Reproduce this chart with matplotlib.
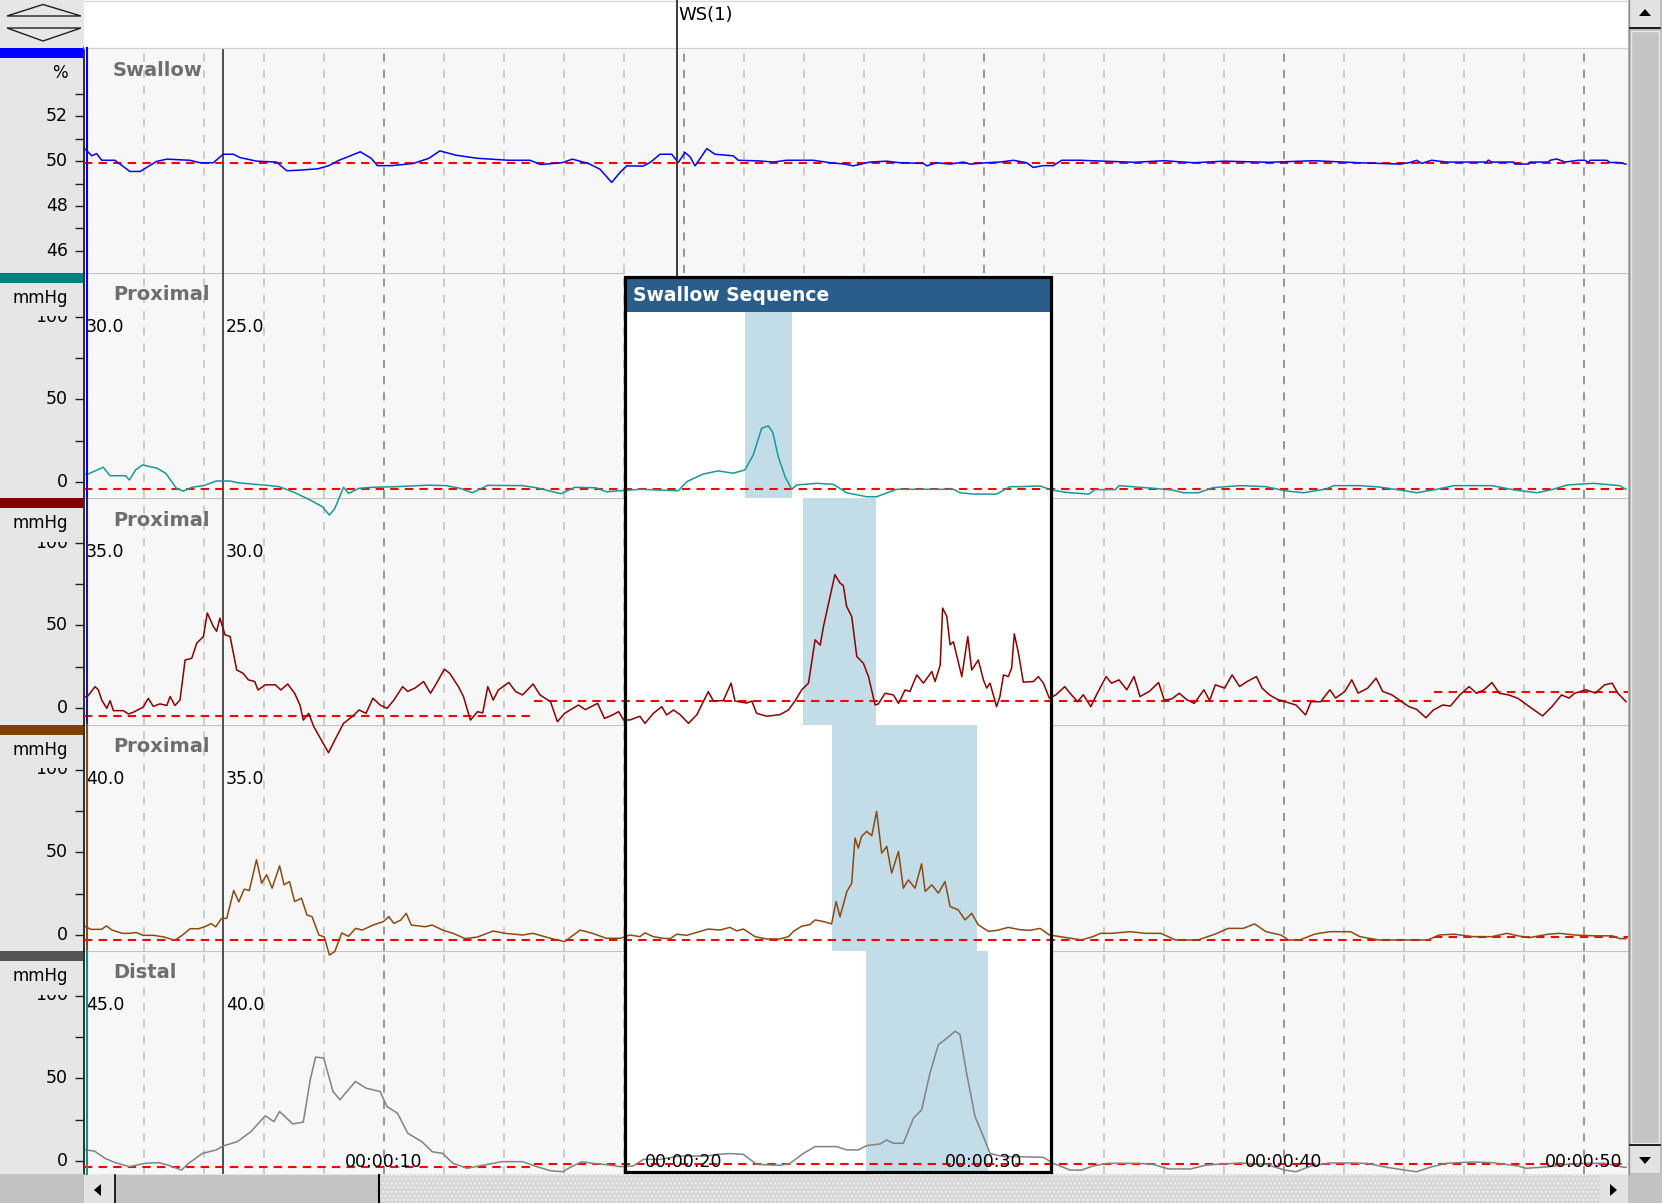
import matplotlib
matplotlib.use("Agg")
import matplotlib.pyplot as plt
from matplotlib.patches import Rectangle, Polygon
from matplotlib.transforms import Bbox

# ---------------- data ----------------
panel_titles = ["Swallow", "Proximal", "Proximal", "Proximal", "Distal"]
panel_units = ["%", "mmHg", "mmHg", "mmHg", "mmHg"]
sensor_labels = [None, ("30.0", "25.0"), ("35.0", "30.0"), ("40.0", "35.0"), ("45.0", "40.0")]
time_ticks = [10, 20, 30, 40, 50]
time_labels = ["00:00:10", "00:00:20", "00:00:30", "00:00:40", "00:00:50"]
swallow_tick_labels = [52, 50, 48, 46]
pressure_tick_labels = [100, 50, 0]
marker_t = 4.63
ws_t = 19.77
ws_label = "WS(1)"
box_t = (18.03, 32.23)
box_title = "Swallow Sequence"
shade_windows = [None, (22.03, 23.6), (23.97, 26.4), (24.93, 29.77), (26.07, 30.13)]

baseline_swallow = [(0.0, 51.5, 49.9)]
baseline_prox1 = [(0.0, 51.5, -4.2)]
baseline_prox2 = [(0.0, 14.9, -4.8), (15.0, 44.9, 4.2), (45.0, 51.5, 9.9)]
baseline_prox3 = [(0.0, 44.9, -3.2), (45.0, 51.5, -1.0)]
baseline_distal = [(0.0, 15.0, -3.4), (15.0, 51.5, -1.8)]

swallow_pts = [
    (0.05, 50.53), (0.26, 50.24), (0.42, 50.34), (0.59, 50.04), (1.03, 50.04), (1.53, 49.54),
    (1.87, 49.54), (2.09, 49.72), (2.42, 49.99), (2.76, 50.09), (3.53, 50.04), (3.87, 49.93),
    (4.31, 49.93), (4.64, 50.31), (4.98, 50.31), (5.2, 50.16), (5.76, 50.0), (6.42, 49.96),
    (6.76, 49.57), (7.2, 49.6), (7.8, 49.66), (8.16, 49.8), (8.5, 50.04), (8.86, 50.23),
    (9.21, 50.42), (9.57, 50.13), (9.78, 49.8), (10.27, 49.8), (10.98, 49.9), (11.5, 50.13),
    (11.86, 50.46), (12.39, 50.27), (13.1, 50.13), (14.16, 50.04), (14.87, 50.04), (15.22, 49.85),
    (15.93, 49.93), (16.28, 50.09), (16.81, 49.9), (17.2, 49.64), (17.59, 49.05), (17.87, 49.5),
    (18.09, 49.79), (18.64, 49.78), (18.87, 49.94), (19.2, 50.31), (19.59, 50.31), (19.81, 49.94),
    (20.03, 50.39), (20.2, 50.2), (20.37, 49.79), (20.76, 50.56), (21.03, 50.31), (21.64, 50.24),
    (21.81, 50.04), (22.53, 50.01), (22.98, 49.96), (23.42, 50.04), (24.31, 50.04), (24.87, 49.93),
    (25.37, 49.87), (25.64, 49.79), (26.2, 49.96), (26.76, 50.0), (27.2, 49.93), (27.98, 49.9),
    (28.09, 49.79), (28.42, 49.93), (28.87, 49.87), (29.31, 49.96), (29.53, 49.87), (30.09, 49.93),
    (30.53, 49.96), (30.98, 50.04), (31.42, 49.93), (31.64, 49.72), (31.98, 49.8), (32.31, 49.8),
    (32.59, 50.04), (33.2, 50.04), (34.0, 50.0), (35.0, 49.95), (36.0, 50.02), (37.0, 49.93),
    (38.0, 50.0), (39.5, 49.95), (41.0, 50.02), (42.5, 49.93), (43.87, 49.87), (44.2, 49.94),
    (44.42, 50.04), (44.59, 49.9), (44.92, 50.04), (45.42, 49.96), (46.76, 49.96), (46.81, 50.05),
    (46.92, 49.96), (47.65, 49.96), (47.7, 49.87), (48.15, 49.87), (48.2, 49.96), (48.81, 49.96),
    (48.87, 50.04), (49.09, 50.1), (49.37, 49.96), (49.81, 50.04), (50.03, 50.04), (50.15, 49.94),
    (50.2, 50.04), (50.76, 50.04), (50.87, 49.94), (51.15, 49.94), (51.4, 49.87),
]

prox1_pts = [
    (0.05, 4.7), (0.12, 4.7), (0.64, 8.9), (0.87, 3.8), (1.39, 3.8), (1.51, 1.2), (1.72, 7.3),
    (1.95, 10.3), (2.44, 8.3), (2.73, 5.2), (3.08, -3.8), (3.31, -5.5), (3.6, -3.2), (4.0, -2.1),
    (4.41, 0.6), (4.87, 0.6), (5.11, -0.4), (5.57, -1.2), (6.04, -1.9), (6.5, -2.8), (6.96, -5.9),
    (7.54, -10.9), (7.95, -15.0), (8.18, -20.0), (8.36, -16.0), (8.65, -3.2), (8.82, -6.9),
    (9.17, -3.8), (9.63, -3.2), (10.45, -2.8), (11.49, -1.9), (12.07, -2.2), (12.53, -3.8),
    (12.94, -6.5), (13.46, -2.0), (14.62, -2.2), (15.09, -3.5), (15.9, -7.1), (16.36, -3.2),
    (17.06, -3.5), (17.41, -5.9), (17.87, -5.3), (18.53, -4.4), (19.81, -5.3), (20.09, 0.2),
    (20.64, 4.8), (21.14, 6.7), (21.64, 5.3), (22.03, 7.3), (22.31, 16.4), (22.59, 32.5),
    (22.81, 33.9), (22.96, 30.0), (23.14, 15.4), (23.37, 3.2), (23.59, -4.4), (23.76, -1.8),
    (24.42, -0.8), (24.98, -1.4), (25.42, -6.5), (26.09, -8.9), (26.42, -8.9), (27.09, -4.4),
    (27.87, -4.4), (28.98, -4.4), (29.2, -6.5), (29.64, -7.3), (30.42, -7.3), (30.87, -2.8),
    (31.2, -2.8), (31.87, -2.4), (32.25, -4.8), (32.75, -6.3), (33.5, -7.3), (33.69, -4.6),
    (34.38, -4.6), (34.5, -2.2), (35.63, -3.8), (36.26, -4.8), (36.64, -6.5), (37.14, -6.5),
    (37.64, -3.4), (38.52, -2.2), (39.4, -2.8), (40.03, -5.3), (40.65, -6.5), (41.41, -4.2),
    (41.66, -2.2), (42.53, -2.2), (43.16, -3.0), (44.04, -5.3), (44.42, -6.5), (45.04, -4.6),
    (45.67, -2.2), (46.93, -2.2), (47.68, -4.8), (48.43, -6.5), (48.93, -4.6), (49.44, -1.8),
    (50.31, -0.8), (51.19, -2.2), (51.4, -4.4),
]

prox2_pts = [
    (0.05, 6.9), (0.11, 6.9), (0.37, 12.9), (0.48, 10.9), (0.59, 4.8), (0.76, -0.2), (0.87, 4.4),
    (0.98, -1.6), (1.31, -1.6), (1.48, -3.6), (1.64, -2.6), (1.97, 0.5), (2.14, 5.8), (2.31, 1.0),
    (2.53, 2.5), (2.76, 1.5), (2.87, 6.9), (3.03, 1.5), (3.2, 4.8), (3.37, 29.0), (3.59, 30.0),
    (3.76, 39.2), (3.98, 43.2), (4.11, 57.4), (4.31, 49.3), (4.42, 46.3), (4.53, 54.3), (4.7, 44.2),
    (4.87, 43.2), (5.09, 23.0), (5.3, 21.0), (5.48, 17.0), (5.69, 16.0), (5.8, 10.9), (6.04, 14.0),
    (6.38, 14.0), (6.56, 10.9), (6.79, 14.5), (7.02, 8.9), (7.2, 1.8), (7.31, -7.3), (7.49, -3.2),
    (7.66, -11.3), (8.15, -27.0), (8.4, -18.0), (8.65, -9.3), (8.94, -5.2), (9.17, -1.2),
    (9.4, -3.2), (9.63, 5.9), (9.87, 1.8), (10.1, -0.2), (10.33, 4.8), (10.62, 12.9), (10.79, 10.0),
    (11.03, 12.0), (11.32, 16.0), (11.55, 8.9), (11.72, 14.0), (12.01, 23.4), (12.19, 21.0),
    (12.48, 12.9), (12.65, 6.9), (12.88, -7.3), (13.12, -2.2), (13.29, -3.0), (13.46, 12.9),
    (13.64, 4.8), (13.81, 10.9), (14.16, 15.4), (14.39, 9.9), (14.62, 7.9), (14.97, 14.5),
    (15.2, 7.9), (15.55, 3.8), (15.78, -8.3), (16.02, -3.2), (16.48, 1.8), (16.71, -1.0),
    (17.12, 2.8), (17.35, -6.3), (17.64, -4.0), (17.82, -2.2), (17.99, -7.3), (18.2, -7.2),
    (18.53, -5.0), (18.7, -9.3), (18.98, -3.2), (19.26, 0.8), (19.42, -4.2), (19.65, -1.2),
    (19.87, -4.0), (20.15, -9.3), (20.43, -4.0), (20.81, 9.9), (20.98, 4.2), (21.31, 4.5),
    (21.57, 15.0), (21.7, 4.2), (22.09, 3.0), (22.26, 4.2), (22.42, -3.2), (22.76, -5.0),
    (23.2, -4.0), (23.48, -1.2), (23.7, 4.2), (23.92, 10.9), (24.15, 15.0), (24.37, 41.2),
    (24.54, 38.0), (24.65, 49.3), (24.87, 67.5), (25.03, 80.6), (25.2, 75.5), (25.31, 74.0),
    (25.42, 61.4), (25.59, 55.3), (25.76, 31.1), (25.98, 27.0), (26.15, 19.0), (26.37, 1.8),
    (26.48, 2.5), (26.7, 8.9), (26.98, 7.9), (27.15, 2.8), (27.37, 10.9), (27.53, 10.0),
    (27.76, 20.0), (27.98, 15.0), (28.26, 22.0), (28.37, 16.0), (28.54, 26.0), (28.62, 60.4),
    (28.76, 55.3), (28.87, 38.2), (28.98, 40.0), (29.26, 19.0), (29.46, 43.2), (29.59, 22.9),
    (29.81, 29.0), (29.98, 17.0), (30.09, 12.0), (30.2, 15.0), (30.42, 0.8), (30.53, 6.9),
    (30.65, 20.0), (30.81, 19.0), (30.92, 24.0), (31.01, 44.8), (31.15, 33.0), (31.31, 15.6),
    (31.65, 16.0), (31.81, 19.0), (31.98, 15.0), (32.18, 5.9), (32.4, 8.0), (32.69, 12.9),
    (32.87, 8.9), (33.12, 3.8), (33.31, 8.0), (33.56, 0.8), (33.75, 8.0), (34.07, 19.0),
    (34.25, 15.0), (34.5, 17.0), (34.76, 11.0), (35.0, 19.0), (35.2, 6.9), (35.51, 10.0),
    (35.82, 15.4), (36.01, 4.8), (36.26, 5.5), (36.51, 8.9), (36.76, 5.0), (37.01, 2.8),
    (37.33, 11.0), (37.52, 4.5), (37.71, 14.0), (38.02, 12.0), (38.27, 20.0), (38.52, 13.0),
    (38.77, 16.0), (39.08, 19.0), (39.27, 12.0), (39.52, 7.9), (39.77, 5.3), (40.03, 3.8),
    (40.4, 1.8), (40.72, -4.2), (40.9, 3.8), (41.22, 3.8), (41.53, 11.0), (41.72, 6.0),
    (42.03, 10.0), (42.26, 17.0), (42.47, 9.0), (42.79, 12.0), (43.07, 18.0), (43.29, 10.0),
    (43.6, 7.9), (43.92, 3.8), (44.17, 0.8), (44.42, -0.8), (44.73, -5.9), (44.98, -1.2),
    (45.29, 1.8), (45.55, 1.2), (45.86, 7.9), (46.17, 12.9), (46.42, 8.9), (46.67, 11.0),
    (46.93, 15.4), (47.18, 8.9), (47.49, 7.9), (47.8, 5.8), (48.18, 0.8), (48.62, -4.8),
    (48.93, 0.8), (49.25, 7.9), (49.5, 6.0), (49.69, 8.9), (50.06, 11.0), (50.38, 9.0),
    (50.69, 14.0), (50.94, 15.0), (51.13, 8.9), (51.4, 3.8),
]

prox3_pts = [
    (0.05, 5.1), (0.23, 3.4), (0.58, 3.4), (0.75, 5.5), (0.93, 3.0), (1.28, 1.0), (1.51, 1.0),
    (1.74, 1.5), (1.97, -0.2), (2.32, -0.2), (2.67, -1.2), (3.02, -3.2), (3.25, -0.5), (3.54, 3.8),
    (3.83, 3.8), (4.06, 5.3), (4.24, 6.9), (4.39, 4.9), (4.58, 9.9), (4.76, 10.1), (4.99, 26.9),
    (5.16, 20.0), (5.34, 27.7), (5.51, 26.9), (5.75, 45.5), (5.92, 31.3), (6.09, 36.4),
    (6.27, 28.3), (6.52, 41.8), (6.67, 30.3), (6.85, 32.3), (7.02, 20.2), (7.25, 22.2),
    (7.43, 12.1), (7.6, 11.1), (7.83, 0.0), (8.01, -1.2), (8.18, -12.1), (8.36, -10.0),
    (8.59, 1.2), (8.82, -0.8), (9.05, 4.0), (9.28, 3.0), (9.63, 6.0), (9.98, 8.1), (10.16, 11.1),
    (10.33, 7.0), (10.56, 9.0), (10.74, 13.1), (10.91, 6.0), (11.37, 5.0), (11.61, 6.0),
    (11.95, 3.0), (12.3, 1.0), (12.71, -2.2), (13.12, -1.2), (13.64, 2.4), (14.04, 1.0),
    (14.62, 0.0), (14.97, 1.0), (15.55, -2.0), (16.02, -4.0), (16.54, 3.0), (16.95, 1.0),
    (17.41, -2.0), (17.87, -2.0), (18.2, 0.0), (18.53, -1.0), (18.7, 1.3), (18.98, -1.0),
    (19.31, -2.0), (19.54, -2.2), (19.76, 0.5), (20.09, -0.2), (20.54, 2.2), (20.81, 3.6),
    (21.2, 3.0), (21.53, 4.6), (21.76, 2.5), (21.98, 3.6), (22.37, -1.0), (22.76, -2.4),
    (23.2, -2.4), (23.48, -1.0), (23.65, 2.2), (23.92, 5.3), (24.2, 6.3), (24.37, 9.1),
    (24.65, 8.1), (24.92, 6.7), (25.07, 20.2), (25.2, 11.0), (25.43, 26.3), (25.59, 31.3),
    (25.7, 58.6), (25.81, 52.5), (25.92, 59.6), (26.09, 62.6), (26.26, 60.0), (26.42, 74.7),
    (26.59, 49.5), (26.76, 53.5), (26.92, 37.4), (27.15, 50.5), (27.31, 28.3), (27.48, 33.3),
    (27.7, 28.3), (27.92, 43.0), (28.04, 26.3), (28.26, 30.3), (28.48, 25.3), (28.7, 32.3),
    (28.87, 17.2), (29.14, 15.2), (29.37, 9.1), (29.59, 13.1), (29.81, 6.1), (30.15, 2.2),
    (30.43, 2.8), (30.81, 4.6), (31.2, 3.2), (31.53, 2.8), (31.87, 4.0), (32.18, 0.0),
    (32.53, -1.0), (32.87, -2.0), (33.25, -3.0), (33.63, -1.0), (33.88, 1.0), (34.25, 1.0),
    (34.88, 2.0), (35.38, 1.0), (35.89, 1.0), (36.39, -3.0), (37.14, -3.0), (37.77, 1.0),
    (38.14, 4.0), (38.64, 4.0), (39.02, 6.7), (39.4, 2.0), (39.9, 0.0), (40.15, -3.0),
    (40.53, -3.0), (41.03, 0.6), (41.53, 2.0), (42.22, 2.0), (42.53, -1.0), (43.16, -3.0),
    (43.79, -3.0), (44.42, -3.0), (44.8, -3.0), (45.17, 0.0), (45.67, 0.5), (46.3, -1.0),
    (46.93, -1.0), (47.43, 1.0), (47.8, -0.5), (48.18, -1.6), (48.81, 0.5), (49.18, 1.0),
    (49.69, 0.0), (50.31, -0.5), (50.94, -0.5), (51.19, -2.2), (51.4, -2.2),
]

distal_pts = [
    (0.05, 6.7), (0.35, 6.0), (0.7, 1.6), (1.04, -1.0), (1.51, -3.4), (2.03, -1.4), (2.5, -1.0),
    (2.79, -2.4), (3.25, -5.5), (3.48, -1.5), (3.95, 4.6), (4.41, 6.7), (4.64, 9.1), (5.11, 11.7),
    (5.57, 17.8), (6.04, 27.3), (6.33, 23.8), (6.52, 29.9), (6.96, 22.4), (7.31, 23.5),
    (7.54, 49.0), (7.72, 62.8), (7.99, 62.2), (8.3, 42.0), (8.53, 37.0), (9.05, 48.1),
    (9.4, 44.0), (9.87, 42.0), (10.1, 32.9), (10.45, 28.9), (10.79, 16.8), (11.26, 11.7),
    (11.61, 5.6), (11.95, 4.6), (12.3, -1.4), (12.77, -4.4), (13.35, -2.4), (13.93, -0.4),
    (14.62, -0.4), (15.09, -3.4), (15.55, -5.9), (15.96, -6.5), (16.25, -3.4), (16.6, -0.4),
    (16.95, -1.4), (17.41, -2.2), (17.87, -3.4), (18.31, -3.0), (18.65, 1.0), (19.2, 1.0),
    (19.87, 3.0), (20.76, 3.0), (21.09, 4.0), (21.53, 4.5), (21.98, 4.0), (22.42, -2.0),
    (22.87, -2.4), (23.2, -2.6), (23.53, -1.5), (23.98, 4.6), (24.37, 8.7), (25.09, 8.7),
    (25.42, 6.7), (25.81, 6.7), (26.09, 9.3), (26.54, 10.3), (26.76, 12.7), (26.98, 10.7),
    (27.31, 10.7), (27.65, 25.9), (27.92, 30.9), (28.2, 53.1), (28.48, 70.3), (28.7, 73.3),
    (29.04, 78.4), (29.2, 76.4), (29.42, 53.1), (29.7, 26.9), (29.98, 14.7), (30.2, 4.6),
    (30.65, 2.6), (31.2, 2.6), (31.98, 2.2), (32.31, -1.4), (32.87, -5.5), (33.25, -5.5),
    (33.63, -3.0), (34.13, -1.4), (35.13, -1.4), (35.63, -2.0), (36.14, -4.8), (36.89, -4.8),
    (37.39, -2.5), (37.77, -2.0), (38.52, -1.2), (39.4, -2.0), (40.03, -5.5), (40.4, -6.5),
    (40.9, -3.0), (41.53, -1.2), (42.28, -1.2), (42.78, -1.5), (43.41, -3.8), (44.04, -5.5),
    (44.42, -6.5), (44.92, -3.5), (45.42, -1.4), (46.3, -0.6), (46.93, -1.0), (47.8, -3.0),
    (48.06, -4.4), (48.81, -3.5), (49.44, -2.0), (50.06, -1.4), (50.69, -1.4), (51.32, -3.8),
    (51.4, -3.8),
]

series = [swallow_pts, prox1_pts, prox2_pts, prox3_pts, distal_pts]
baselines = [baseline_swallow, baseline_prox1, baseline_prox2, baseline_prox3, baseline_distal]

# ---------------- layout / style ----------------
W, H, DPI = 1662, 1203, 100
X0, X1 = 84, 1628
PX_PER_S = 30.0
T_MAX = (X1 - X0) / PX_PER_S
bounds = [48, 273, 498, 725, 951, 1174]
zero_px = [None, 482, 708, 935, 1161]
MM_PX = 1.655
PT = 0.72  # points per pixel at 100 dpi
BOX_TOP, HEADER_TOP, HEADER_BOT, BOX_BOT = 277, 279, 312, 1172

trace_colors = ['#0000ff', '#16999a', '#8b0000', '#8b4a12', '#828282']
strip_colors = ['#0000ff', '#008080', '#800000', '#804000', '#555555']
left_line_colors = ['#0000ff', '#0000ff', '#1a1aa0', '#8b4a12', '#129090']
shade_color = '#c3dde8'
bg_panel = '#f7f7f7'
bg_side = '#e6e6e6'
sep_color = '#c4c4c4'

plt.rcParams['font.family'] = ['DejaVu Sans']

fig = plt.figure(figsize=(W / DPI, H / DPI), dpi=DPI)
fig.patch.set_facecolor(bg_side)

axes = []
for i in range(5):
    top, bot = bounds[i], bounds[i + 1]
    ax = fig.add_axes([X0 / W, 1 - bot / H, (X1 - X0) / W, (bot - top) / H])
    # upper panels drawn after lower ones so their traces may run over the border
    ax.set_zorder(2 - 0.1 * i)
    ax.set_facecolor(bg_panel)
    ax.set_xlim(0, T_MAX)
    if i == 0:
        ax.set_ylim(45.0, 55.06)
        ax.set_yticks(list(range(46, 54)))
    else:
        ax.set_ylim(-(bot - zero_px[i]) / MM_PX, (zero_px[i] - top) / MM_PX)
        ax.set_yticks([0, 25, 50, 75, 100])
    ax.set_xticks([])
    ax.tick_params(axis='y', direction='out', length=6.5, width=1.0,
                   color='#202020', labelleft=False)
    for s in ['top', 'right', 'bottom']:
        ax.spines[s].set_visible(False)
    ax.spines['left'].set_color('#202020')
    ax.spines['left'].set_linewidth(1.3)

    # vertical grid every 2 s, darker every 10 s
    for g in range(2, int(T_MAX) + 1, 2):
        major = (g % 10 == 0)
        ax.axvline(g, color='#8e8e8e' if major else '#c8c8c8', lw=1.3,
                   ls=(0, (4.5, 4.5)), zorder=1)

    ytop = ax.get_ylim()[1]
    if i > 0:
        # panel separator (hidden inside the box)
        ax.plot([0, box_t[0]], [ytop, ytop], color=sep_color, lw=1.6, zorder=1.2, clip_on=False)
        ax.plot([box_t[1], T_MAX], [ytop, ytop], color=sep_color, lw=1.6, zorder=1.2, clip_on=False)
        ax.axvspan(box_t[0], box_t[1], color='white', lw=0, zorder=1.5)
        shade_top = 1.0 if i > 1 else (bot - HEADER_BOT) / (bot - top)
        ax.axvspan(shade_windows[i][0], shade_windows[i][1], ymin=0, ymax=shade_top,
                   color=shade_color, lw=0, zorder=2)

    ax.axvline(marker_t, color='#4f4f4f', lw=1.4, zorder=2.5)

    for (a, b, v) in baselines[i]:
        ax.plot([a, b], [v, v], color='#ff0000', lw=1.5, ls=(0, (4, 3)), zorder=3)

    tt = [p[0] for p in series[i]]
    vv = [p[1] for p in series[i]]
    ax.plot(tt, vv, color=trace_colors[i], lw=1.1, zorder=4, clip_on=False)

    ax.annotate(panel_titles[i], xy=(0, 1), xycoords='axes fraction',
                xytext=(29 * PT, -22 * PT), textcoords='offset points',
                ha='left', va='center', fontsize=14, fontweight='bold',
                color='#6e6e6e', zorder=6)
    if sensor_labels[i] is not None:
        ax.annotate(sensor_labels[i][0], xy=(0, 1), xycoords='axes fraction',
                    xytext=(2 * PT, -54 * PT), textcoords='offset points',
                    ha='left', va='center', fontsize=12.5, color='black', zorder=6)
        ax.annotate(sensor_labels[i][1], xy=(marker_t, 1),
                    xycoords=('data', 'axes fraction'),
                    xytext=(3 * PT, -54 * PT), textcoords='offset points',
                    ha='left', va='center', fontsize=12.5, color='black', zorder=6)
    axes.append(ax)

# ---------------- chrome overlay (pixel coordinates) ----------------
ov = fig.add_axes([0, 0, 1, 1], zorder=5)
ov.set_xlim(0, W)
ov.set_ylim(H, 0)
ov.axis('off')
ov.patch.set_facecolor('none')

def px_y(ax, v):
    return H - ax.transData.transform((0, v))[1]

# header
ov.add_patch(Rectangle((X0, 0), X1 - X0, 48, fc='white', ec='none'))
ov.plot([X0, X1], [48, 48], color='#d2d2d2', lw=1)
ov.plot([X0, X1], [0.5, 0.5], color='#d8d8d8', lw=1)
# top-left expand/collapse icon
ov.add_patch(Polygon([(7, 16), (43, 4.5), (81, 16)], closed=True, fill=False, ec='#202020', lw=1))
ov.add_patch(Polygon([(7, 28), (43, 41), (81, 28)], closed=True, fill=False, ec='#202020', lw=1))

# left strips, units, tick labels
for i in range(5):
    top, bot = bounds[i], bounds[i + 1]
    ov.add_patch(Rectangle((0, top), 83, 10, fc=strip_colors[i], ec='none'))
    ov.text(68, top + 25, panel_units[i], ha='right', va='center', fontsize=12, color='black')
    labels = swallow_tick_labels if i == 0 else pressure_tick_labels
    for v in labels:
        y = px_y(axes[i], v)
        t = ov.text(68, y, str(v), ha='right', va='center', fontsize=12.5, color='black')
        if i > 0 and v == 100:
            t.set_clip_box(Bbox.from_extents(0, H - bot, X0, H - (y - 1)))
            t.set_clip_on(True)
    ov.plot([86.5, 86.5], [top, bot], color=left_line_colors[i], lw=1.5)

# bottom scrollbar
ov.add_patch(Rectangle((0, 1174), X0, 29, fc='#c2c2c2', ec='none'))
ov.add_patch(Rectangle((85, 1175), 29, 28, fc='#e2e2e2', ec='none'))
ov.add_patch(Polygon([(94, 1190), (101, 1184), (101, 1196)], closed=True, fc='black', ec='none'))
ov.plot([114.5, 114.5], [1175, 1203], color='black', lw=1.2)
ov.add_patch(Rectangle((115, 1175), 263, 28, fc='#c4c4c4', ec='none'))
ov.plot([378.5, 378.5], [1175, 1203], color='black', lw=1.5)
ov.add_patch(Rectangle((379, 1175), 1221, 28, fc='#d6d6d6', ec='#eeeeee', hatch='....',
                       lw=0))
ov.add_patch(Rectangle((1600, 1175), 28, 28, fc='#e2e2e2', ec='none'))
ov.add_patch(Polygon([(1617, 1190), (1610, 1184), (1610, 1196)], closed=True, fc='black', ec='none'))
ov.add_patch(Rectangle((1628, 1173), 34, 30, fc='#c2c2c2', ec='none'))

# right scrollbar
ov.add_patch(Rectangle((1628, 0), 34, 1174, fc='#bdbdbd', ec='none'))
ov.plot([1628.5, 1628.5], [0, 1174], color='#909090', lw=1)
ov.add_patch(Rectangle((1630, 0), 30, 27, fc='#e2e2e2', ec='none'))
ov.plot([1630, 1660], [27.5, 27.5], color='black', lw=1.2)
ov.add_patch(Polygon([(1645, 9), (1639, 16), (1651, 16)], closed=True, fc='black', ec='none'))
ov.add_patch(Rectangle((1631, 31), 28, 1112, fc='#c4c4c4', ec='#e8e8e8', lw=1))
ov.add_patch(Rectangle((1630, 1145), 30, 28, fc='#e2e2e2', ec='none'))
ov.plot([1630, 1660], [1144.5, 1144.5], color='black', lw=1.2)
ov.add_patch(Polygon([(1645, 1164), (1639, 1157), (1651, 1157)], closed=True, fc='black', ec='none'))

# ---------------- time overlay (x = seconds, y = pixels from top) ----------------
tov = fig.add_axes([X0 / W, 0, (X1 - X0) / W, 1], zorder=6)
tov.set_xlim(0, T_MAX)
tov.set_ylim(H, 0)
tov.axis('off')
tov.patch.set_facecolor('none')

box_w = box_t[1] - box_t[0]
tov.add_patch(Rectangle((box_t[0], HEADER_TOP), box_w, HEADER_BOT - HEADER_TOP,
                        fc='#2b5d8a', ec='none', zorder=3))
tov.add_patch(Rectangle((box_t[0], BOX_TOP), box_w, BOX_BOT - BOX_TOP, fill=False,
                        ec='black', lw=2.3, zorder=4))
tov.annotate(box_title, xy=(box_t[0], (HEADER_TOP + HEADER_BOT) / 2), xycoords='data',
             xytext=(8 * PT, 0), textcoords='offset points', ha='left', va='center',
             fontsize=13.5, fontweight='bold', color='white', zorder=5)

tov.plot([ws_t, ws_t], [0, BOX_TOP], color='#3a3a3a', lw=1.4, zorder=2)
tov.annotate(ws_label, xy=(ws_t, 15), xycoords='data', xytext=(1.5 * PT, 0),
             textcoords='offset points', ha='left', va='center', fontsize=13, color='black')

for t, lab in zip(time_ticks, time_labels):
    tov.text(t, 1162, lab, ha='center', va='center', fontsize=12.5, color='black', zorder=6)

fig.savefig('out.png', dpi=DPI)
